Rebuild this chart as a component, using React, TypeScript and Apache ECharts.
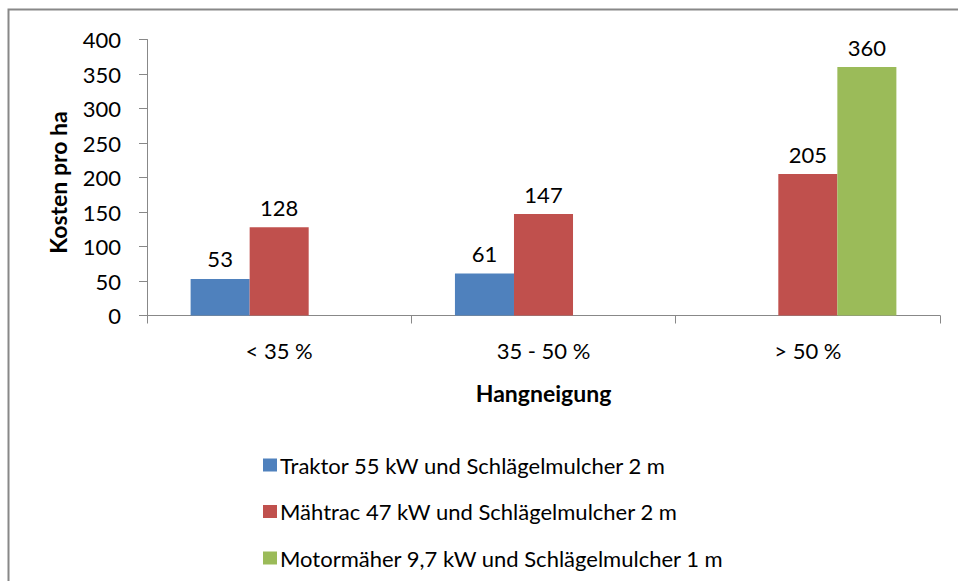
import React, { useEffect, useRef } from "react";
import * as echarts from "echarts";

const categories = ["< 35 %", "35 - 50 %", "> 50 %"];
const traktor = [53, 61, null];
const maehtrac = [128, 147, 205];
const motormaeher = [null, null, 360];
const seriesNames = [
  "Traktor 55 kW und Schlägelmulcher 2 m",
  "Mähtrac 47 kW und Schlägelmulcher 2 m",
  "Motormäher 9,7 kW und Schlägelmulcher 1 m",
];
const colors = ["#4F81BD", "#C0504D", "#9BBB59"];

const FONT = "Lato, 'Open Sans', sans-serif";

export default function App() {
  const ref = useRef<HTMLDivElement>(null);
  useEffect(() => {
    if (!ref.current) return;
    const chart = echarts.init(ref.current, null, { renderer: "svg" });
    const label = {
      show: true,
      position: "top",
      distance: 9,
      fontSize: 22,
      fontFamily: FONT,
      color: "#000",
    };
    const datas = [traktor, maehtrac, motormaeher];
    chart.setOption({
      animation: false,
      backgroundColor: "#fff",
      textStyle: { fontFamily: FONT },
      graphic: [
        {
          type: "rect",
          shape: { x: 8.5, y: 9.5, width: 1000, height: 1000 },
          style: { fill: "none", stroke: "#888888", lineWidth: 2 },
          silent: true,
        },
      ],
      grid: { left: 147, right: 18, top: 39.5, bottom: 265.5, containLabel: false },
      legend: {
        orient: "vertical",
        left: 258,
        top: 449,
        itemWidth: 14,
        itemHeight: 13,
        itemGap: 24.5,
        icon: "rect",
        textStyle: { fontSize: 22, lineHeight: 22, fontFamily: FONT, color: "#000", padding: [0, 0, 0, -2] },
        data: seriesNames,
      },
      xAxis: {
        type: "category",
        data: categories,
        name: "Hangneigung",
        nameLocation: "middle",
        nameGap: 66,
        nameTextStyle: { fontSize: 23, fontWeight: "bold", fontFamily: FONT, color: "#000" },
        axisLine: { show: true, lineStyle: { color: "#888888", width: 1 } },
        axisTick: { show: true, length: 8, lineStyle: { color: "#888888" } },
        axisLabel: { fontSize: 22, fontFamily: FONT, color: "#000", margin: 24 },
        splitLine: { show: false },
      },
      yAxis: {
        type: "value",
        min: 0,
        max: 400,
        interval: 50,
        name: "Kosten pro ha",
        nameLocation: "middle",
        nameRotate: 90,
        nameGap: 78,
        nameTextStyle: {
          fontSize: 23,
          fontWeight: "bold",
          fontFamily: FONT,
          color: "#000",
          padding: [0, 10, 0, 0],
        },
        axisLine: { show: true, lineStyle: { color: "#888888", width: 1 } },
        axisTick: { show: true, length: 8, lineStyle: { color: "#888888" } },
        axisLabel: { fontSize: 22, fontFamily: FONT, color: "#000", margin: 26 },
        splitLine: { show: false },
      },
      series: seriesNames.map((name, i) => ({
        name,
        type: "bar",
        data: datas[i],
        barGap: "0%",
        barCategoryGap: "33%",
        itemStyle: { color: colors[i] },
        label,
      })),
    });
    return () => chart.dispose();
  }, []);
  return (
    <div
      ref={ref}
      style={{ position: "absolute", left: 0, top: 0, width: 958, height: 581 }}
    />
  );
}
